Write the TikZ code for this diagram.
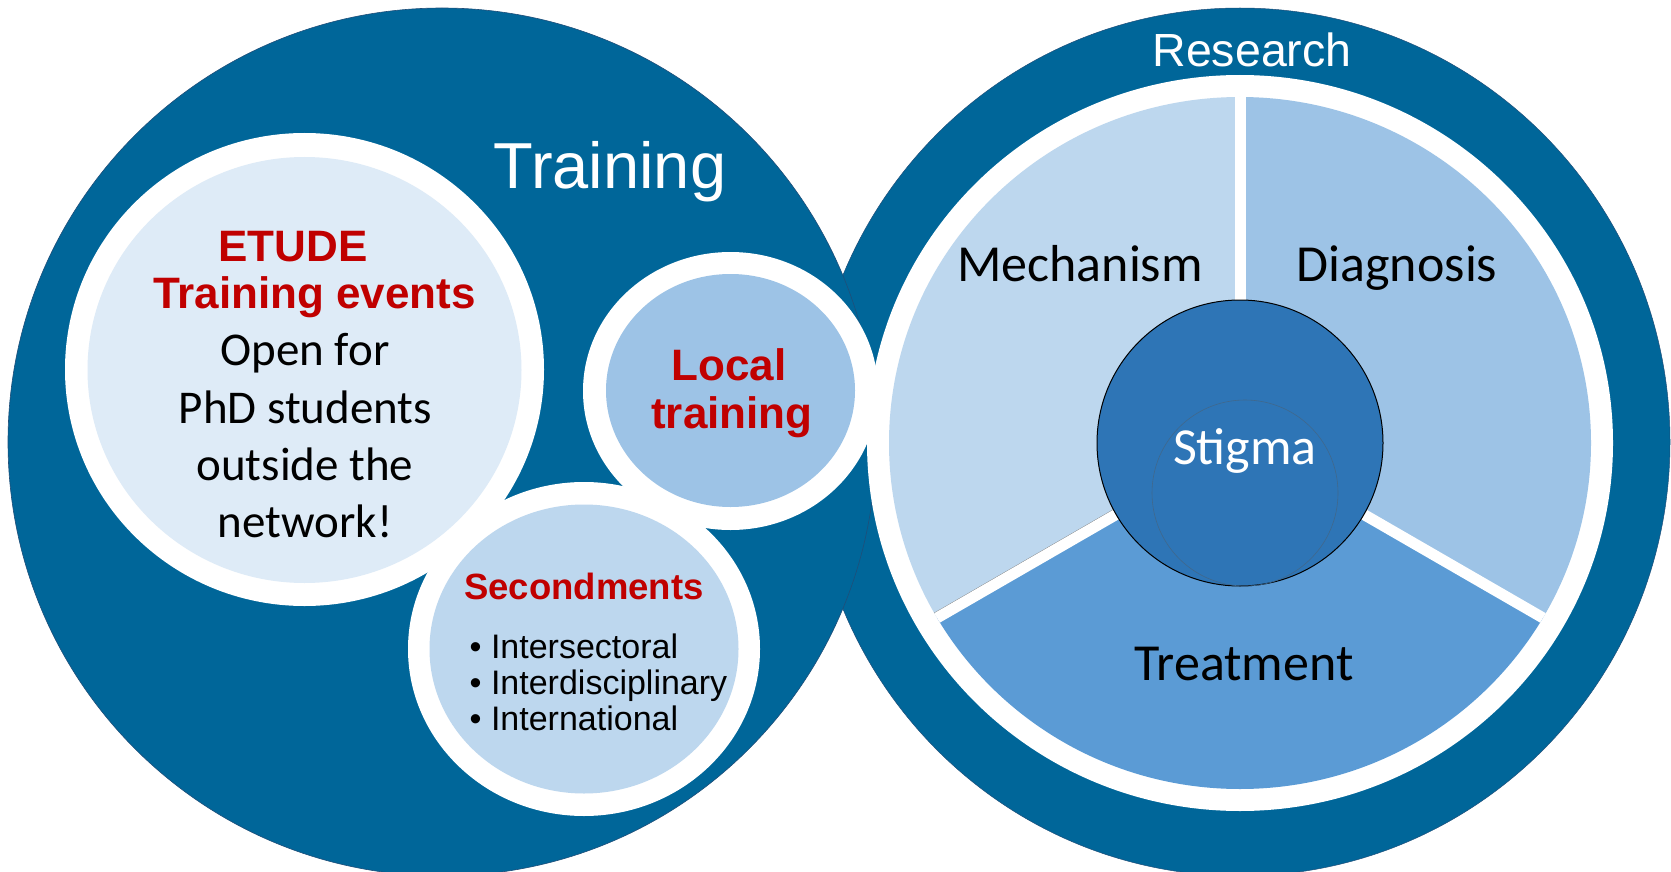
\documentclass[tikz,border=0pt]{standalone}
\usepackage{fontspec}
\setmainfont{Liberation Sans}
\newfontfamily\arialf{Liberation Sans}
\newfontfamily\calibrif{Carlito}
\definecolor{dkblue}{HTML}{006699}
\definecolor{dkedge}{HTML}{1F4E79}
\definecolor{mechc}{HTML}{BDD7EE}
\definecolor{diagc}{HTML}{9DC3E6}
\definecolor{treatc}{HTML}{5B9BD5}
\definecolor{stigc}{HTML}{2E75B6}
\definecolor{etudec}{HTML}{DEEBF7}
\definecolor{redc}{HTML}{C00000}
\tikzset{
  lbl/.style={inner sep=0pt, anchor=base},
  redtitle/.style={lbl, text=redc, font=\arialf\bfseries\fontsize{44}{50}\selectfont},
  blacktxt/.style={lbl, text=black, font=\calibrif\fontsize{47}{56}\selectfont},
  pietxt/.style={lbl, text=black, font=\calibrif\fontsize{52}{60}\selectfont},
  bullettxt/.style={inner sep=0pt, anchor=base west, text=black, font=\arialf\fontsize{34}{40}\selectfont},
}
\begin{document}
\begin{tikzpicture}[x=1pt,y=-1pt]
\useasboundingbox (0,0) rectangle (1671,872);
% big dark circles
\filldraw[fill=dkblue, draw=dkedge, line width=0.5pt] (1240,442) ellipse[x radius=430, y radius=434];
\filldraw[fill=dkblue, draw=dkedge, line width=0.6pt] (442,442) circle[radius=434];
% right: white ring and pie
\fill[white] (1240,443) ellipse[x radius=373, y radius=368];
\begin{scope}
  \clip (1240,443) ellipse[x radius=351, y radius=346];
  \fill[mechc] (1240,443) -- +(150:520) -- +(210:520) -- +(270:520) -- cycle;
  \fill[diagc] (1240,443) -- +(-90:520) -- +(-30:520) -- +(30:520) -- cycle;
  \fill[treatc] (1240,443) -- +(30:520) -- +(90:520) -- +(150:520) -- cycle;
  \draw[gray, line width=0.8pt] (1237.25,438.24) -- (934.15,613.24);
  \draw[white, line width=11pt] (1240,443) -- +(270:400);
  \draw[white, line width=11pt] (1240,443) -- +(150:400);
  \draw[white, line width=11pt] (1240,443) -- +(30:400);
\end{scope}
\filldraw[fill=stigc, draw=black, line width=1pt] (1240,443) circle[radius=143];
\draw[draw=stigc!80!black!70!gray, line width=0.6pt] (1245,493) circle[radius=93];
% left sub-circles: white rings
\fill[white] (304.5,369.5) ellipse[x radius=239.5, y radius=236.5];
\fill[white] (730.5,391) ellipse[x radius=147.5, y radius=139];
\fill[white] (584,649) ellipse[x radius=176, y radius=167];
% fills
\fill[etudec] (304.5,370) ellipse[x radius=217, y radius=213];
\fill[diagc] (730.5,390.5) ellipse[x radius=124.5, y radius=116.5];
\fill[mechc] (584,649) ellipse[x radius=154.5, y radius=144.5];
% texts
\node[lbl, text=white, font=\arialf\fontsize{65}{70}\selectfont] (training) at (610,188) {Training};
\node[lbl, text=white, font=\arialf\fontsize{46.5}{52}\selectfont] (research) at (1252,67) {Research};
\node[redtitle] (etude) at (293,261) {ETUDE};
\node[redtitle] (events) at (314.5,308) {Training events};
\node[blacktxt] (open) at (305,365) {Open for};
\node[blacktxt] (phd) at (305.5,423) {PhD students};
\node[blacktxt] (outside) at (305,480) {outside the};
\node[blacktxt] (network) at (305,537) {network!};
\node[redtitle] (local) at (729,380.5) {Local};
\node[redtitle] (localtr) at (732,428) {training};
\node[redtitle, font=\arialf\bfseries\fontsize{36.5}{42}\selectfont] (second) at (584,599.5) {Secondments};
\node[bullettxt] (b1) at (469.5,658) {\textbullet\ Intersectoral};
\node[bullettxt] (b2) at (469.5,694) {\textbullet\ Interdisciplinary};
\node[bullettxt] (b3) at (469.5,730) {\textbullet\ International};
\node[pietxt] (mech) at (1080,281) {Mechanism};
\node[pietxt] (diag) at (1397,281) {Diagnosis};
\node[pietxt] (treat) at (1244,680) {Treatment};
\node[pietxt, text=white] (stigma) at (1245,464) {Stigma};
\end{tikzpicture}
\end{document}
